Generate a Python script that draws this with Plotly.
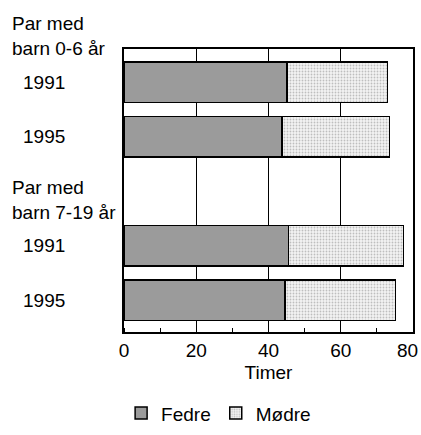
import plotly.graph_objects as go

# hours per week, couples with children
years = ['1991', '1995', '1991', '1995']
groups = ['Par med<br>barn 0-6 år', 'Par med<br>barn 7-19 år']
fedre = [45.1, 43.7, 45.6, 44.6]
modre = [27.8, 29.8, 31.8, 30.5]
xticks = [0, 20, 40, 60, 80]
xticktext = ['0', '20', '40', '60', '']  # "80" drawn separately so it stays inside the page

# row positions on the y axis (gap row between the two groups)
rows = [1, 2, 4, 5]
group_rows = [0.15, 3.16]
yrange = [5.58, 0.39]


def ypaper(r):
    return (yrange[0] - r) / (yrange[0] - yrange[1])


font = 'Liberation Sans, Arial'

fig = go.Figure()
fig.add_trace(go.Bar(
    y=rows, x=fedre, orientation='h', name='Fedre', width=0.74,
    marker=dict(color='#b0b0b0', line=dict(color='black', width=1.5),
                pattern=dict(shape='.', fgcolor='#303030', bgcolor='#b8b8b8',
                             size=2, solidity=0.5)),
))
fig.add_trace(go.Bar(
    y=rows, x=modre, orientation='h', name='Mødre', width=0.74,
    marker=dict(color='#f0f0f0', line=dict(color='black', width=1.5),
                pattern=dict(shape='.', fgcolor='#888888', bgcolor='#f4f4f4',
                             size=3, solidity=0.3)),
))

for r, t in zip(rows, years):
    fig.add_annotation(x=-0.355, xref='paper', y=ypaper(r), yref='paper', text=t,
                       showarrow=False, xanchor='left', yanchor='middle')
for r, t in zip(group_rows, groups):
    fig.add_annotation(x=-0.395, xref='paper', y=ypaper(r), yref='paper', text=t,
                       showarrow=False, xanchor='left', yanchor='middle', align='left')

# last x tick label, right-aligned near the frame
fig.add_annotation(x=xticks[-1], xref='x', y=0, yref='paper', text=str(xticks[-1]),
                   showarrow=False, xanchor='right', yanchor='top', xshift=7, yshift=-6)

fig.update_layout(
    barmode='stack',
    width=421, height=435,
    margin=dict(l=124, r=8, t=49, b=103, autoexpand=False),
    plot_bgcolor='white', paper_bgcolor='white',
    font=dict(family=font, size=19, color='black'),
    showlegend=True,
    legend=dict(orientation='h', x=-0.01, xanchor='left', y=-0.22, yanchor='top',
                font=dict(size=19), traceorder='normal'),
)
fig.update_xaxes(
    range=[0, 80], tickvals=xticks, ticktext=xticktext,
    showgrid=True, gridcolor='black', gridwidth=1,
    showline=True, linecolor='black', linewidth=1.5, mirror=True, ticks='',
    minor=dict(dtick=10, tick0=0, ticks='inside', ticklen=4, tickcolor='black', showgrid=False),
    title=dict(text='Timer', standoff=6, font=dict(size=19)), zeroline=False,
)
fig.update_yaxes(
    range=yrange, showticklabels=False, showgrid=False, zeroline=False,
    showline=True, linecolor='black', linewidth=1.5, mirror=True, ticks='',
)

# drop the default page margin and scrollbars so the figure fills the window
fig.write_html('out.html', config={'displayModeBar': False},
               post_script="document.body.style.margin='0';document.body.style.overflow='hidden';")
